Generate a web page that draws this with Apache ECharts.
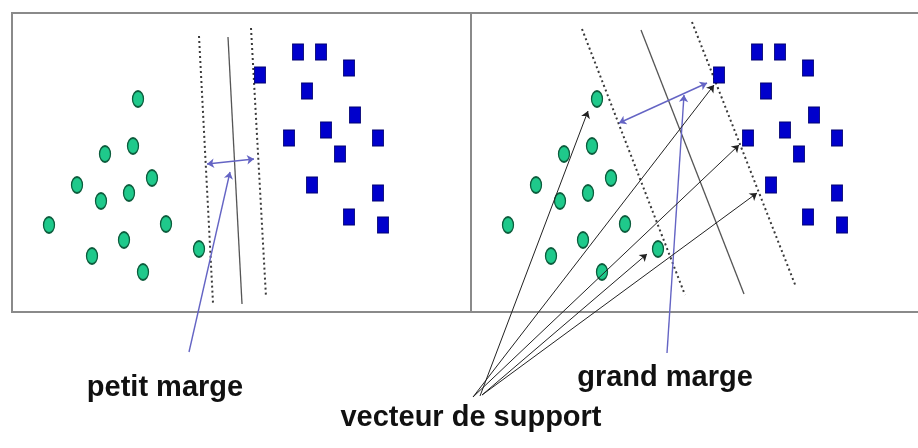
<!DOCTYPE html>
<html>
<head>
<meta charset="utf-8">
<script src="https://cdn.jsdelivr.net/npm/echarts@6/dist/echarts.min.js"></script>
<style>html,body{margin:0;padding:0;background:#fff;}#chart{width:918px;height:448px;}</style>
</head>
<body>
<div id="chart"></div>
<script>
// Panel coordinates (pixels relative to each panel's top-left corner, y downward)
const greenPoints = [[126,86],[121,133],[93,141],[140,165],[65,172],[117,180],[89,188],[37,212],[154,211],[112,227],[187,236],[80,243],[131,259]];
const bluePoints = [[248,62],[286,39],[309,39],[337,55],[295,78],[343,102],[314,117],[277,125],[366,125],[328,141],[300,172],[366,180],[337,204],[371,212]];

const leftDashed = [[[187,23],[201,290]], [[239,15],[254,284]]];
const leftSolid = [[[216,24],[230,291]]];
const leftMargin = [[[195,151],[242,146]]];
const leftPointer = [[[177,339],[218,159]]];

const rightDashed = [[[111,16],[214,282]], [[221,9],[325,274]]];
const rightSolid = [[[170,17],[273,281]]];
const rightMargin = [[[148,110],[236,70]]];
const rightPointer = [[[196,340],[213,82]]];
const supportArrows = [
  [[9,383],[117,98]],
  [[2,384],[243,72]],
  [[2,384],[268,132]],
  [[11,382],[176,241]],
  [[11,382],[286,180]]
];
// right panel frame: top and bottom edges only (no right edge)
const rightFrame = [[[0,0],[447,0]], [[0,299],[447,299]]];

const labels = [
  {text:'petit marge', x:165, y:388},
  {text:'grand marge', x:665, y:378},
  {text:'vecteur de support', x:471, y:418}
];

const ellipsePath = 'path://M0,8A6,8 0 1,1 12,8A6,8 0 1,1 0,8Z';

function pointSeries(g) {
  return [
    {type:'scatter', xAxisIndex:g, yAxisIndex:g, data:greenPoints, symbol:ellipsePath, symbolSize:[11,16], symbolKeepAspect:false,
     itemStyle:{color:'#1fc98b', borderColor:'#0c5c3c', borderWidth:1.5, opacity:1}, z:3, silent:true},
    {type:'scatter', xAxisIndex:g, yAxisIndex:g, data:bluePoints, symbol:'rect', symbolSize:[11,16],
     itemStyle:{color:'#0000cc', borderColor:'#000070', borderWidth:1, opacity:1}, z:3, silent:true}
  ];
}
function linesSeries(g, segs, style, symbol, symbolSize, z) {
  return {type:'lines', coordinateSystem:'cartesian2d', xAxisIndex:g, yAxisIndex:g, clip:false, silent:true,
    data: segs.map(s => ({coords:s})), symbol: symbol || 'none', symbolSize: symbolSize || 7,
    lineStyle: Object.assign({opacity:1, curveness:0}, style), z: z || 2};
}

const dashStyle = {color:'#3a3a3a', width:2, type:[2,3]};
const solidStyle = {color:'#555', width:1.3, type:'solid'};
const marginStyle = {color:'#6464c4', width:1.4, type:'solid'};
const arrowStyle = {color:'#222', width:1, type:'solid'};
const frameStyle = {color:'#8a8a8a', width:2, type:'solid'};

const chart = echarts.init(document.getElementById('chart'), null, {renderer:'canvas'});
chart.setOption({
  animation:false,
  backgroundColor:'#fff',
  grid:[
    {left:12, top:13, width:459, height:299, show:true, borderColor:'#8a8a8a', borderWidth:2, backgroundColor:'transparent'},
    {left:471, top:13, width:447, height:299, show:false}
  ],
  xAxis:[
    {gridIndex:0, type:'value', min:0, max:459, show:false},
    {gridIndex:1, type:'value', min:0, max:447, show:false}
  ],
  yAxis:[
    {gridIndex:0, type:'value', min:0, max:299, inverse:true, show:false},
    {gridIndex:1, type:'value', min:0, max:299, inverse:true, show:false}
  ],
  series:[
    ...pointSeries(0),
    linesSeries(0, leftDashed, dashStyle),
    linesSeries(0, leftSolid, solidStyle),
    linesSeries(0, leftMargin, marginStyle, ['arrow','arrow'], 7, 4),
    linesSeries(0, leftPointer, marginStyle, ['none','arrow'], 7, 4),
    linesSeries(1, rightFrame, frameStyle, 'none', 7, 1),
    ...pointSeries(1),
    linesSeries(1, rightDashed, dashStyle),
    linesSeries(1, rightSolid, solidStyle),
    linesSeries(1, rightMargin, marginStyle, ['arrow','arrow'], 7, 4),
    linesSeries(1, rightPointer, marginStyle, ['none','arrow'], 7, 4),
    linesSeries(1, supportArrows, arrowStyle, ['none','arrow'], 7, 4)
  ],
  graphic: labels.map(l => ({
    type:'text', x:l.x, y:l.y, silent:true,
    style:{text:l.text, fill:'#111', font:'bold 29px "Liberation Sans", Arial, sans-serif', align:'center', verticalAlign:'middle'}
  }))
});
</script>
</body>
</html>
